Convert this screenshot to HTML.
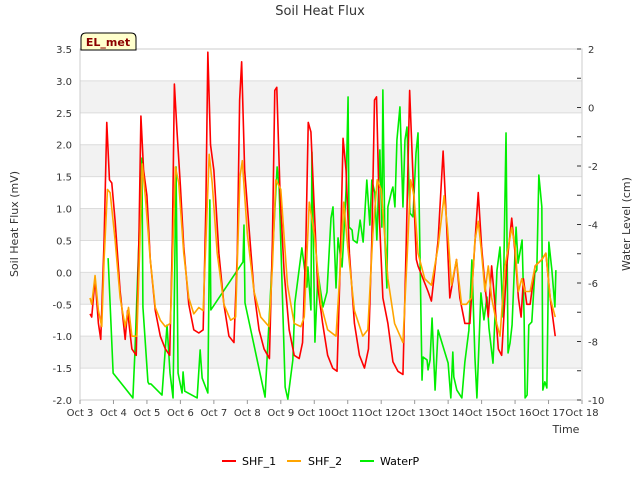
<!DOCTYPE html>
<html><head><meta charset="utf-8"><style>
body{margin:0;background:#fff;font-family:"Liberation Sans","DejaVu Sans",sans-serif;}
svg text{font-family:"DejaVu Sans","Liberation Sans",sans-serif;}
</style></head><body>
<svg id="chart" width="640" height="480" xmlns="http://www.w3.org/2000/svg">
<text x="320" y="15" text-anchor="middle" font-size="13" fill="#333">Soil Heat Flux</text>
<g id="bands"></g><g id="grid"></g><g id="axes"></g><g id="series"></g>
<text transform="translate(18,224) rotate(-90)" text-anchor="middle" font-size="11" fill="#333">Soil Heat Flux (mV)</text>
<text transform="translate(630,224) rotate(-90)" text-anchor="middle" font-size="11" fill="#333">Water Level (cm)</text>
<text x="566" y="433" text-anchor="middle" font-size="11" fill="#333">Time</text>
<g>
<path d="M81,50 L81,38 Q81,33 86,33 L131,33 Q136,33 136,38 L136,50 Z" fill="#ffffcc" stroke="#000" stroke-width="1"/>
<text x="108" y="46" text-anchor="middle" font-size="11" font-weight="bold" fill="#8b0000">EL_met</text></g>
<g>
<line x1="222" y1="461" x2="236" y2="461" stroke="#ff0000" stroke-width="2"/><text x="242" y="465" font-size="11" fill="#000">SHF_1</text>
<line x1="287" y1="461" x2="301" y2="461" stroke="#ffa500" stroke-width="2"/><text x="308" y="465" font-size="11" fill="#000">SHF_2</text>
<line x1="360" y1="461" x2="374" y2="461" stroke="#00ee00" stroke-width="2"/><text x="380" y="465" font-size="11" fill="#000">WaterP</text>
</g>
</svg>
<script>
const xTicks=[3,4,5,6,7,8,9,10,11,12,13,14,15,16,17,18];
const yTicks=[3.5,3.0,2.5,2.0,1.5,1.0,0.5,0.0,-0.5,-1.0,-1.5,-2.0];
const y2Ticks=[2,0,-2,-4,-6,-8,-10];
const shf1T=[3.3,3.35,3.45,3.55,3.62,3.72,3.8,3.88,3.95,4.05,4.2,4.35,4.42,4.55,4.68,4.76,4.82,4.9,5.0,5.1,5.25,5.4,5.55,5.68,5.76,5.82,5.9,6.0,6.1,6.25,6.4,6.55,6.68,6.76,6.82,6.9,7.0,7.15,7.3,7.45,7.6,7.7,7.77,7.83,7.92,8.05,8.2,8.35,8.5,8.66,8.75,8.82,8.88,8.98,9.1,9.25,9.4,9.55,9.65,9.75,9.82,9.9,10.0,10.1,10.25,10.4,10.55,10.68,10.78,10.86,10.95,11.05,11.2,11.35,11.5,11.62,11.72,11.8,11.86,11.95,12.05,12.2,12.35,12.5,12.65,12.75,12.85,12.95,13.05,13.1,13.25,13.4,13.5,13.7,13.85,13.95,14.05,14.15,14.25,14.35,14.5,14.65,14.78,14.9,15.0,15.1,15.2,15.3,15.4,15.5,15.6,15.75,15.9,16.0,16.1,16.18,16.25,16.35,16.45,16.6,16.8,16.92,17.05,17.2];
const shf1V=[-0.65,-0.7,-0.1,-0.8,-1.05,0.5,2.35,1.45,1.4,0.8,-0.3,-1.05,-0.6,-1.2,-1.3,0.5,2.45,1.6,1.2,0.2,-0.6,-1.0,-1.2,-1.3,0.5,2.95,2.2,1.35,0.4,-0.5,-0.9,-0.95,-0.9,1.0,3.45,2.0,1.6,0.3,-0.5,-1.0,-1.1,0.3,2.7,3.3,1.6,0.7,-0.3,-0.9,-1.2,-1.35,0.5,2.85,2.9,1.2,0.0,-0.9,-1.3,-1.35,-1.1,0.5,2.35,2.2,1.0,-0.2,-0.8,-1.3,-1.5,-1.55,0.2,2.1,1.6,0.3,-0.8,-1.3,-1.5,-1.2,0.5,2.7,2.75,0.8,-0.4,-0.8,-1.4,-1.55,-1.6,0.5,2.85,1.5,0.2,0.1,-0.1,-0.3,-0.45,0.5,1.9,0.8,-0.4,-0.1,0.2,-0.4,-0.8,-0.8,0.3,1.25,0.4,-0.2,-0.7,0.1,-0.5,-1.2,-1.3,0.1,0.85,0.3,-0.4,-0.7,-0.1,-0.5,-0.5,0.1,0.2,0.3,-0.4,-1.0];
const shf2T=[3.3,3.35,3.45,3.55,3.65,3.72,3.82,3.9,4.05,4.2,4.35,4.45,4.55,4.7,4.78,4.86,4.95,5.1,5.25,5.4,5.55,5.7,5.77,5.85,5.95,6.1,6.25,6.4,6.55,6.68,6.77,6.86,6.95,7.1,7.3,7.5,7.65,7.78,7.85,8.0,8.2,8.4,8.65,8.75,8.85,9.0,9.2,9.4,9.6,9.7,9.85,10.0,10.2,10.4,10.65,10.78,10.88,11.0,11.2,11.45,11.6,11.75,11.88,12.0,12.2,12.4,12.65,12.78,12.88,12.98,13.1,13.3,13.5,13.7,13.88,13.98,14.1,14.25,14.4,14.55,14.7,14.8,14.9,15.0,15.1,15.2,15.3,15.45,15.55,15.7,15.9,16.0,16.1,16.2,16.3,16.45,16.6,16.8,16.92,17.05,17.2];
const shf2V=[-0.4,-0.5,-0.05,-0.6,-0.85,0.2,1.3,1.25,0.5,-0.4,-0.85,-0.55,-1.0,-1.0,0.3,1.7,1.2,0.2,-0.55,-0.75,-0.85,-0.8,0.3,1.65,1.4,0.3,-0.4,-0.65,-0.55,-0.6,0.6,1.85,1.4,0.3,-0.5,-0.75,-0.7,1.5,1.75,0.6,-0.3,-0.7,-0.85,0.1,1.45,1.3,-0.2,-0.8,-0.85,-0.7,1.1,0.6,-0.5,-0.9,-1.0,0.1,1.1,0.4,-0.6,-1.0,-0.9,0.6,1.45,1.3,-0.1,-0.8,-1.1,0.3,1.45,1.2,0.3,-0.1,-0.2,0.4,1.2,0.7,-0.2,0.2,-0.5,-0.5,-0.4,0.5,0.8,0.3,-0.3,0.1,-0.4,-0.8,-1.0,0.1,0.7,0.4,-0.3,-0.1,-0.3,-0.3,0.1,0.2,0.3,-0.4,-0.7];
const wT=[3.84,3.99,4.58,4.64,4.85,4.88,5.03,5.06,5.12,5.45,5.6,5.69,5.78,5.87,5.93,6.05,6.08,6.13,6.5,6.59,6.65,6.82,6.88,6.91,7.87,7.9,7.93,8.53,8.89,8.95,9.13,9.21,9.36,9.42,9.63,9.78,9.81,9.9,9.93,10.02,10.11,10.26,10.38,10.5,10.56,10.65,10.71,10.83,10.86,10.95,11.01,11.04,11.13,11.16,11.28,11.37,11.46,11.57,11.66,11.72,11.81,11.87,11.96,12.02,12.05,12.11,12.17,12.2,12.32,12.35,12.41,12.47,12.56,12.65,12.71,12.77,12.86,12.95,13.04,13.1,13.16,13.22,13.25,13.37,13.4,13.46,13.52,13.61,13.7,14.0,14.08,14.14,14.17,14.26,14.41,14.5,14.62,14.71,14.8,14.86,14.98,15.07,15.16,15.22,15.34,15.46,15.55,15.64,15.73,15.79,15.85,15.91,16.03,16.09,16.21,16.27,16.3,16.36,16.41,16.5,16.59,16.65,16.71,16.8,16.83,16.89,16.95,17.01,17.1,17.19,17.22];
const wV=[-5.15,-9.08,-9.93,-8.39,-1.73,-6.82,-9.38,-9.45,-9.45,-9.83,-7.44,-9.08,-9.93,-2.03,-9.08,-9.76,-9.04,-9.7,-9.93,-8.29,-9.25,-9.76,-3.16,-6.92,-5.28,-4.02,-6.68,-9.9,-2.03,-2.72,-9.56,-9.97,-8.63,-6.68,-4.8,-6.14,-5.45,-6.92,-1.52,-8.02,-5.66,-6.82,-6.31,-3.78,-3.4,-6.17,-4.46,-5.45,-4.87,-2.82,0.36,-4.09,-4.19,-4.53,-4.63,-3.85,-4.6,-2.48,-4.02,-2.48,-2.92,-4.53,-1.45,-4.09,0.6,-4.53,-6.17,-3.4,-2.82,-2.72,-3.4,-1.11,0.02,-3.4,-1.11,-0.67,-3.61,-3.74,-1.56,-0.87,-5.11,-9.32,-8.53,-8.63,-8.97,-8.63,-7.2,-9.66,-7.61,-8.74,-9.93,-8.36,-9.21,-9.66,-9.93,-8.7,-7.61,-5.21,-8.53,-9.93,-6.34,-7.26,-6.48,-7.54,-8.74,-5.56,-4.77,-7.16,-0.87,-8.39,-8.05,-7.44,-4.09,-5.32,-4.53,-7.16,-9.93,-9.83,-7.44,-7.33,-5.66,-5.56,-2.31,-3.4,-9.66,-9.38,-9.59,-4.6,-5.56,-6.82,-5.56];
const L=80,R=582,T=49,B=400,NS="http://www.w3.org/2000/svg";
const xs=t=>L+(t-3)/15*(R-L), ys=v=>T+(3.5-v)/5.5*(B-T), y2s=v=>T+(2-v)/12*(B-T);
function mk(tag,attrs,parent){const e=document.createElementNS(NS,tag);for(const k in attrs)e.setAttribute(k,attrs[k]);parent.appendChild(e);return e;}
const bands=document.getElementById('bands'),grid=document.getElementById('grid'),axes=document.getElementById('axes'),ser=document.getElementById('series');
[3.0,2.0,1.0,0.0,-1.0].forEach(v=>{const r=mk('rect',{x:L,y:ys(v),width:R-L,height:ys(v-0.5)-ys(v),fill:'#f2f2f2'},bands);

});
yTicks.forEach(v=>{const l=mk('line',{x1:L,x2:R,y1:ys(v),y2:ys(v),stroke:'#dcdcdc','stroke-width':1},grid);


const t=mk('text',{x:72,y:ys(v)+4,'text-anchor':'end','font-size':10,fill:'#333'},axes);t.textContent=v.toFixed(1);

});
mk('rect',{x:L,y:T,width:R-L,height:B-T,fill:'none',stroke:'#cccccc'},grid);
xTicks.forEach(d=>{const t=mk('text',{x:xs(d),y:416,'text-anchor':'middle','font-size':10,fill:'#333'},axes);t.textContent='Oct '+d;


mk('line',{x1:xs(d),x2:xs(d),y1:B,y2:B+4,stroke:'#999'},axes);});
for(let v=2;v>=-10;v--){mk('line',{x1:R-5,x2:R-1,y1:y2s(v),y2:y2s(v),stroke:'#333'},axes);}
y2Ticks.forEach(v=>{const t=mk('text',{x:588,y:y2s(v)+4,'font-size':10,fill:'#333'},axes);t.textContent=v;

});
function line(T_,V_,sy,col,name){const p=mk('polyline',{points:T_.map((t,i)=>xs(t)+','+sy(V_[i])).join(' '),fill:'none',stroke:col,'stroke-width':1.6,'stroke-linejoin':'round'},ser);

}
line(wT,wV,y2s,'#00ee00','waterp-line');
line(shf1T,shf1V,ys,'#ff0000','shf1-line');
line(shf2T,shf2V,ys,'#ffa500','shf2-line');
</script>
</body></html>
